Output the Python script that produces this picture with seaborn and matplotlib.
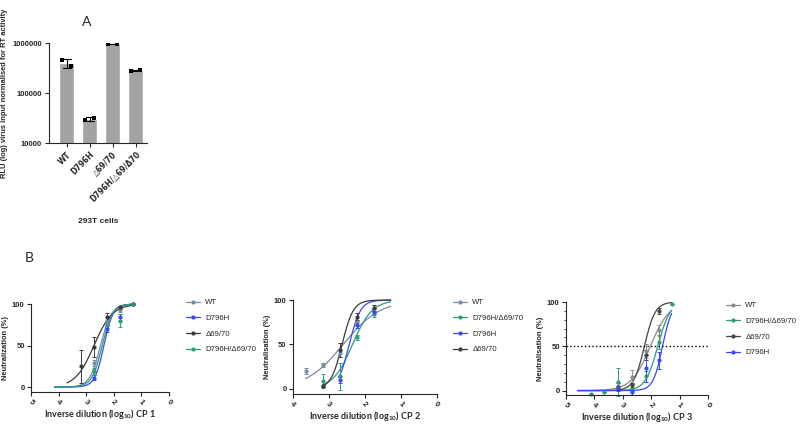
import numpy as np
import pandas as pd
import matplotlib
matplotlib.use('Agg')
import matplotlib.pyplot as plt
import seaborn as sns
from matplotlib.ticker import NullLocator, MultipleLocator, FixedLocator
from matplotlib.lines import Line2D

nan = np.nan

# --- panel A: RLU per virus (two replicates)
a_lines = ['WT', 'D796H', '△69/70', 'D796H/△69/Δ70']
a_rep1 = [450000, 28500, 950000, 280000]
a_rep2 = [340000, 32000, 950000, 290000]

# --- panel B: neutralisation by convalescent plasma
colors = {'WT': '#7b8aa3', 'D796H': '#3a48f2', 'Δ69/70': '#3a3a3a',
          'D796H/Δ69/70': '#2e9c7f'}

# CP 1
cp1_order = ['WT', 'D796H', 'Δ69/70', 'D796H/Δ69/70']
cp1_dil = [3.20, 2.73, 2.25, 1.78, 1.30]
cp1_y = {'WT': [nan, 29, 78, 93, 100], 'D796H': [nan, 11, 70, 84, 100],
         'Δ69/70': [25, 48, 84, 96, 100], 'D796H/Δ69/70': [nan, 19, 75, 80, 100]}
cp1_err = {'WT': [0, 4, 3, 2, 0], 'D796H': [0, 3, 4, 4, 0],
           'Δ69/70': [20, 12, 5, 2, 0], 'D796H/Δ69/70': [0, 4, 4, 8, 0]}
cp1_ic50 = {'WT': 2.48, 'D796H': 2.36, 'Δ69/70': 2.72, 'D796H/Δ69/70': 2.42}
cp1_hill = {'WT': 2.2, 'D796H': 2.6, 'Δ69/70': 1.3, 'D796H/Δ69/70': 2.3}
cp1_start = {'WT': 4.15, 'D796H': 4.15, 'Δ69/70': 3.7, 'D796H/Δ69/70': 4.15}

# CP 2
cp2_order = ['WT', 'D796H/Δ69/70', 'D796H', 'Δ69/70']
cp2_dil = [3.63, 3.17, 2.68, 2.22, 1.75]
cp2_y = {'WT': [20, 27, 40, 75, 91], 'D796H/Δ69/70': [nan, 9, 14, 58, 84],
         'D796H': [nan, nan, 10, 72, 87], 'Δ69/70': [nan, 3, 44, 81, 91]}
cp2_err = {'WT': [3, 2, 4, 3, 3], 'D796H/Δ69/70': [0, 8, 15, 3, 3],
           'D796H': [0, 0, 4, 3, 3], 'Δ69/70': [0, 1, 8, 4, 3]}
cp2_ic50 = {'WT': 2.6, 'D796H/Δ69/70': 2.34, 'D796H': 2.43, 'Δ69/70': 2.63}
cp2_hill = {'WT': 0.85, 'D796H/Δ69/70': 1.6, 'D796H': 2.8, 'Δ69/70': 2.8}
cp2_start = {'WT': 3.65, 'D796H/Δ69/70': 3.18, 'D796H': 2.73, 'Δ69/70': 3.18}

# CP 3
cp3_order = ['WT', 'D796H/Δ69/70', 'Δ69/70', 'D796H']
cp3_dil = [4.13, 3.66, 3.17, 2.69, 2.20, 1.74, 1.26]
cp3_y = {'WT': [nan, nan, 5, 15, 45, 68, nan],
         'D796H/Δ69/70': [-4, -2, 10, 3, 16, 55, 98],
         'Δ69/70': [nan, nan, 3, 6, 40, 90, nan],
         'D796H': [nan, nan, 4, -2, 25, 34, nan]}
cp3_err = {'WT': [0, 0, 3, 8, 8, 6, 0], 'D796H/Δ69/70': [0, 0, 16, 4, 6, 8, 0],
           'Δ69/70': [0, 0, 2, 3, 6, 3, 0], 'D796H': [0, 0, 4, 3, 15, 10, 0]}
cp3_ic50 = {'WT': 2.03, 'D796H/Δ69/70': 1.77, 'Δ69/70': 2.24, 'D796H': 1.6}
cp3_hill = {'WT': 1.3, 'D796H/Δ69/70': 2.0, 'Δ69/70': 2.3, 'D796H': 2.6}
cp3_start = {'WT': 4.59, 'D796H/Δ69/70': 4.59, 'Δ69/70': 4.59, 'D796H': 4.59}

cp3_colors = dict(colors, WT='#8c8c8c', **{'Δ69/70': '#444444'})

sns.set_style('ticks')
plt.rcParams['font.family'] = ['Liberation Sans', 'DejaVu Sans']
plt.rcParams['mathtext.fontset'] = 'custom'
plt.rcParams['mathtext.bf'] = 'Lato:bold'
plt.rcParams['axes.linewidth'] = 0.8
plt.rcParams['xtick.major.width'] = 0.8
plt.rcParams['ytick.major.width'] = 0.8

fig = plt.figure(figsize=(8, 4.25), dpi=100)

# ---------------- panel A
df_a = pd.DataFrame({'line': a_lines * 2, 'rep': ['r1'] * 4 + ['r2'] * 4,
                     'value': a_rep1 + a_rep2})
ax_a = fig.add_axes([0.061, 0.6635, 0.1225, 0.2353])
ax_a.set_yscale('log')
sns.barplot(data=df_a, x='line', y='value', color='#a3a3a3', saturation=1,
            width=0.65, errorbar='sd', capsize=0.35,
            err_kws={'color': 'black', 'linewidth': 0.8}, ax=ax_a)
sns.stripplot(data=df_a, x='line', y='value', hue='rep', dodge=True, jitter=False,
              palette=['black', 'black'], marker='s', size=3.2, legend=False, ax=ax_a)
ax_a.set_xlim(-0.78, 3.48)
ax_a.set_ylim(1e4, 1e6)
ax_a.yaxis.set_major_locator(FixedLocator([1e4, 1e5, 1e6]))
ax_a.yaxis.set_minor_locator(NullLocator())
ax_a.set_yticklabels(['10000', '100000', '1000000'], fontsize=5.5, fontweight='bold')
ax_a.set_xticks(range(4))
ax_a.set_xticklabels(a_lines, rotation=45, ha='right', rotation_mode='anchor',
                     fontsize=5.5, fontweight='bold',
                     family=['DejaVu Sans'])
ax_a.tick_params(length=3, pad=2)
ax_a.set_xlabel('293T cells', fontsize=6, fontweight='bold', labelpad=10)
ax_a.set_ylabel('RLU (log) virus input normalised for RT activity',
                fontsize=5.4, fontweight='bold', labelpad=3)
sns.despine(ax=ax_a)
fig.text(87 / 800, 1 - 22 / 425, 'A', fontsize=10, ha='center', va='center', family='Lato')
fig.text(29 / 800, 1 - 258 / 425, 'B', fontsize=10, ha='center', va='center', family='Lato')


def draw_panel(ax, dil, ys, errs, ic50, hill, start, order, pal, xmax, ylabel, cp,
               legend_xy):
    rows = []
    for v in order:
        xs = np.linspace(1.28, start[v], 150)
        neut = 100 / (1 + 10 ** (hill[v] * (xs - ic50[v])))
        rows.append(pd.DataFrame({'dil': xs, 'neut': neut, 'variant': v}))
    curves = pd.concat(rows)
    sns.lineplot(data=curves, x='dil', y='neut', hue='variant', hue_order=order,
                 palette=pal, estimator=None, legend=False, linewidth=0.9, ax=ax)
    for line in ax.lines:
        line.set_clip_on(False)
    for v in order:
        ax.errorbar(dil, ys[v], yerr=errs[v], fmt='o', ms=2, color=pal[v],
                    elinewidth=0.7, capsize=1.2, capthick=0.7, clip_on=False)
    ax.set_xlim(xmax, 0)
    ax.set_ylim(-6, 100)
    ax.set_xticks(range(int(xmax), -1, -1))
    ax.set_xticklabels([str(t) for t in range(int(xmax), -1, -1)], rotation=-45,
                       fontsize=5.5, fontweight='bold')
    ax.set_yticks([0, 50, 100])
    ax.set_yticklabels(['0', '50', '100'], fontsize=5.5, fontweight='bold')
    ax.tick_params(length=3, pad=1.5)
    ax.set_xlabel(r'Inverse dilution (log$_{\mathbf{10}}$) CP ' + cp, fontsize=6.5,
                  fontweight='bold', family='Lato', labelpad=0.5)
    ax.set_ylabel(ylabel, fontsize=5.4, fontweight='bold', labelpad=2)
    sns.despine(ax=ax)
    handles = [Line2D([0], [0], color=pal[v], marker='o', ms=2, lw=0.9) for v in order]
    fig.legend(handles, order, loc='upper left',
               bbox_to_anchor=(legend_xy[0] / 800, 1 - legend_xy[1] / 425),
               frameon=False, fontsize=5.6, handlelength=1.8, labelspacing=1.05,
               handletextpad=0.7, borderaxespad=0, borderpad=0)


ax1 = fig.add_axes([0.0388, 0.0776, 0.1725, 0.207])
draw_panel(ax1, cp1_dil, cp1_y, cp1_err, cp1_ic50, cp1_hill, cp1_start, cp1_order,
           colors, 5, 'Neutralization (%)', '1', (186, 299))

ax2 = fig.add_axes([0.366, 0.0729, 0.18, 0.221])
draw_panel(ax2, cp2_dil, cp2_y, cp2_err, cp2_ic50, cp2_hill, cp2_start, cp2_order,
           colors, 4, 'Neutralisation (%)', '2', (453, 299))

ax3 = fig.add_axes([0.7075, 0.0706, 0.1775, 0.2188])
draw_panel(ax3, cp3_dil, cp3_y, cp3_err, cp3_ic50, cp3_hill, cp3_start, cp3_order,
           cp3_colors, 5, 'Neutralisation (%)', '3', (726, 302))
ax3.set_ylim(-5, 100)
ax3.yaxis.set_minor_locator(MultipleLocator(10))
ax3.tick_params(which='minor', length=1.8, width=0.6)
ax3.axhline(50, color='black', linestyle=':', linewidth=1)

fig.savefig('out.png', dpi=100)
